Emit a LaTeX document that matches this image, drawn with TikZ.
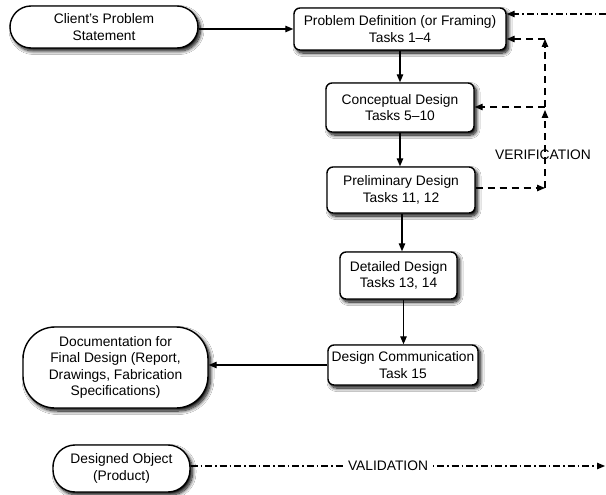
\documentclass[tikz,border=0pt]{standalone}
\usepackage{fontspec}
\setmainfont{Liberation Sans}
\usetikzlibrary{arrows.meta,shadows.blur}
\begin{document}
\begin{tikzpicture}[x=1pt,y=-1pt,
  font=\fontsize{13.8}{16.5}\selectfont,
  softshadow/.style={blur shadow={shadow xshift=2.5pt,shadow yshift=-3pt,
      shadow blur radius=3.5pt,shadow blur steps=10,shadow opacity=100}},
  stagebox/.style={draw,line width=1.4pt,rounded corners=6pt,fill=white,
      align=center,inner sep=0pt,softshadow},
  endbox/.style={draw,line width=1.4pt,fill=white,align=center,inner sep=0pt,softshadow},
  arr/.style={line width=1.2pt,-{Triangle[length=8pt,width=6.5pt]}},
  verif/.style={arr,dash pattern=on 7pt off 5pt},
  valid/.style={arr,dash pattern=on 7pt off 3pt on 1.5pt off 3pt},
]
\useasboundingbox[fill=white] (0,0) rectangle (606,495);

% inputs and outputs of the process
\node[endbox,rounded corners=21pt,minimum width=188pt,minimum height=42pt]
  (client) at (104,27) {Client's Problem\\Statement};
\node[endbox,rounded corners=32pt,minimum width=185pt,minimum height=81pt]
  (doc) at (115.5,367.5) {Documentation for\\Final Design (Report,\\Drawings, Fabrication\\Specifications)};
\node[endbox,rounded corners=22pt,minimum width=137pt,minimum height=47pt]
  (object) at (121.5,468.5) {Designed Object\\(Product)};

% design stages
\node[stagebox,minimum width=212pt,minimum height=42pt]
  (probdef) at (400,29) {Problem Definition (or Framing)\\Tasks 1--4};
\node[stagebox,minimum width=148pt,minimum height=49pt]
  (concept) at (400,107.5) {Conceptual Design\\Tasks 5--10};
\node[stagebox,minimum width=148pt,minimum height=46pt]
  (prelim) at (401,190) {Preliminary Design\\Tasks 11, 12};
\node[stagebox,minimum width=117pt,minimum height=47pt]
  (detailed) at (398.5,275.5) {Detailed Design\\Tasks 13, 14};
\node[stagebox,minimum width=150pt,minimum height=40pt]
  (comm) at (403,365) {Design Communication\\Task 15};

% main flow
\draw[arr] (client.east |- probdef) -- (probdef.west);
\draw[arr] (probdef.south) -- (probdef.south |- concept.north);
\draw[arr] (concept.south) -- (concept.south |- prelim.north);
\draw[arr] ([xshift=1pt]prelim.south) -- ([xshift=1pt]prelim.south |- detailed.north);
\draw[arr] ([xshift=5pt]detailed.south) -- ([xshift=5pt]detailed.south |- comm.north);
\draw[arr] (comm.west) -- (doc.east |- comm.west);

% verification loop
\coordinate (vb) at (545,188);
\coordinate (vm) at (545,107);
\coordinate (vt) at (545,39);
\draw[verif] (prelim.east |- vb) -- (vb);
\draw[verif] (vb) -- ([yshift=-3pt]vm);
\draw[verif] (vm) -- (vt);
\draw[verif] (vm) -- (concept.east |- vm);
\draw[verif] (vt) -- (probdef.east |- vt);
\node (verlabel) at (543,155) {VERIFICATION};

% validation loop
\coordinate (vr) at (605,466);
\coordinate (tr) at (606,14);
\draw[valid] (object.east |- vr) -- (vr);
\draw[valid] (tr) -- (probdef.east |- tr);
\node[fill=white,inner xsep=5pt,inner ysep=1pt] (vallabel) at (388,466) {VALIDATION};
\end{tikzpicture}
\end{document}
